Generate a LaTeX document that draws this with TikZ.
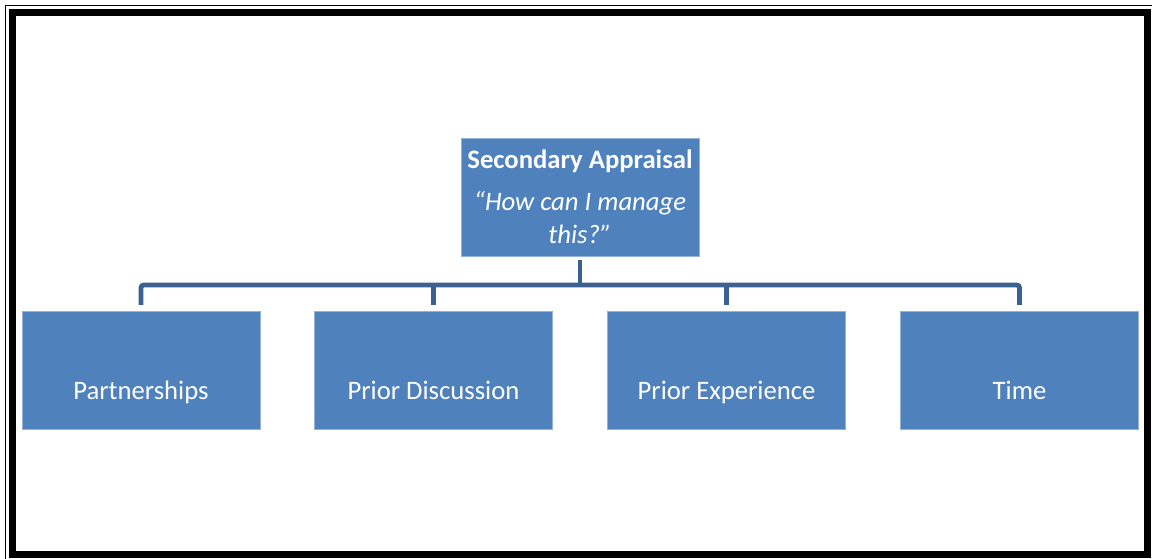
\documentclass[tikz,border=0pt]{standalone}
\usepackage{fontspec}
\setmainfont{Carlito}
\usetikzlibrary{positioning}
\definecolor{boxblue}{HTML}{4F81BD}
\definecolor{boxedge}{HTML}{95B3D7}
\definecolor{linkblue}{HTML}{3A6291}
\tikzset{
  stagebox/.style={draw=boxedge, line width=0.6pt, fill=boxblue, text=white,
    minimum width=178.5pt, minimum height=88pt, inner sep=0pt, font=\fontsize{20}{24}\selectfont},
  lowbox/.style={stagebox, text height=50pt, text depth=7pt},
  link/.style={draw=linkblue, line width=3.6pt, rounded corners=2pt}
}
\begin{document}
\begin{tikzpicture}[x=0.75pt, y=-0.75pt]
\useasboundingbox (0,0) rectangle (1152,558);
\clip (0,0) rectangle (1152,558);
\fill[white] (0,0) rectangle (1152,558);
% frame
\draw[line width=1pt] (5.5,5.5) rectangle (1160,570);
\draw[line width=5.3pt] (12.5,12.5) rectangle (1147.5,554.5);

% boxes
\node[stagebox, minimum height=88.5pt, align=center] (appraisal) at (580,197)
  {\textbf{Secondary Appraisal}\\[7pt]
   \textit{“How can I manage}\\[1pt]
   \textit{this?”}};
\node[lowbox] (partner) at (141,370.5) {Partnerships};
\node[lowbox] (discuss) at (433.5,370.5) {Prior Discussion};
\node[lowbox] (experience) at (726.5,370.5) {Prior Experience};
\node[lowbox] (time) at (1019.5,370.5) {Time};

% connectors
\coordinate (bus) at (580,285);
\draw[link] ([yshift=-3pt]appraisal.south) -- (bus);
\draw[link] ([yshift=5pt]partner.north) -- (partner.north |- bus) -- (time.north |- bus) -- ([yshift=5pt]time.north);
\draw[link] (discuss.north |- bus) -- ([yshift=5pt]discuss.north);
\draw[link] (experience.north |- bus) -- ([yshift=5pt]experience.north);
\end{tikzpicture}
\end{document}
